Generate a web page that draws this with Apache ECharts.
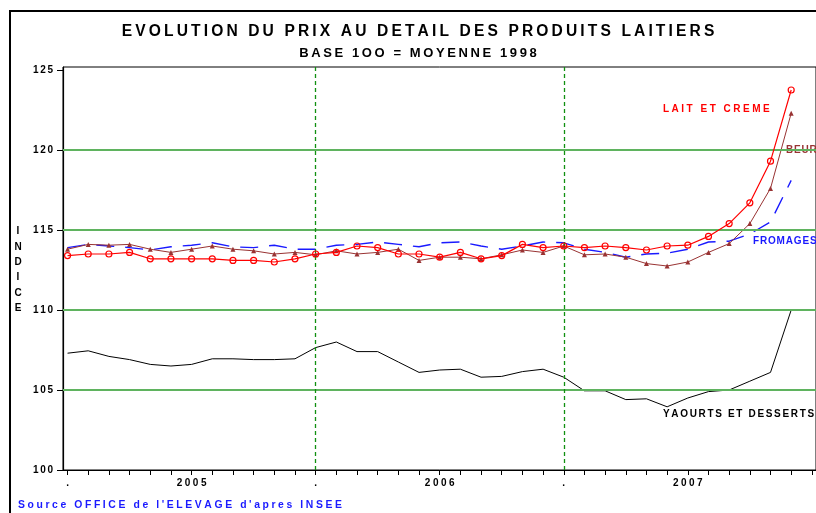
<!DOCTYPE html>
<html>
<head>
<meta charset="utf-8">
<script src="https://cdn.jsdelivr.net/npm/echarts@6/dist/echarts.min.js"></script>
<style>
html, body { margin: 0; background: #fff; }
#chart { width: 816px; height: 513px; }
</style>
</head>
<body>
<div id="chart"></div>
<script>
const months = [
  '2005-01', '2005-02', '2005-03', '2005-04', '2005-05', '2005-06',
  '2005-07', '2005-08', '2005-09', '2005-10', '2005-11', '2005-12',
  '2006-01', '2006-02', '2006-03', '2006-04', '2006-05', '2006-06',
  '2006-07', '2006-08', '2006-09', '2006-10', '2006-11', '2006-12',
  '2007-01', '2007-02', '2007-03', '2007-04', '2007-05', '2007-06',
  '2007-07', '2007-08', '2007-09', '2007-10', '2007-11', '2007-12'
];
const yearLabels = ['2005', '2006', '2007'];

const laitCreme = [
  113.4, 113.5, 113.5, 113.6, 113.2, 113.2, 113.2, 113.2, 113.1, 113.1, 113.0, 113.2,
  113.5, 113.6, 114.0, 113.9, 113.5, 113.5, 113.3, 113.6, 113.2, 113.4, 114.1, 113.9,
  114.0, 113.9, 114.0, 113.9, 113.75, 114.0, 114.05, 114.6, 115.4, 116.7, 119.3, 123.75
];
const beurre = [
  113.8, 114.1, 114.05, 114.1, 113.8, 113.6, 113.8, 114.0, 113.8, 113.7, 113.5, 113.6,
  113.45, 113.7, 113.5, 113.6, 113.8, 113.1, 113.3, 113.3, 113.2, 113.45, 113.75, 113.6,
  114.0, 113.45, 113.5, 113.3, 112.9, 112.75, 113.0, 113.6, 114.15, 115.4, 117.6, 122.3
];
const fromages = [
  113.9, 114.1, 114.0, 113.9, 113.75, 113.95, 114.05, 114.2, 113.95, 113.9, 114.05, 113.8,
  113.8, 114.05, 114.1, 114.25, 114.1, 113.95, 114.2, 114.25, 114.0, 113.8, 114.0, 114.25,
  114.2, 113.8, 113.6, 113.3, 113.5, 113.55, 113.8, 114.25, 114.3, 114.75, 115.5, 118.1
];
const yaourts = [
  107.3, 107.45, 107.1, 106.9, 106.6, 106.5, 106.6, 106.95, 106.95, 106.9, 106.9, 106.95,
  107.65, 108.0, 107.4, 107.4, 106.75, 106.1, 106.25, 106.3, 105.8, 105.85, 106.15, 106.3,
  105.8, 104.95, 104.95, 104.4, 104.45, 103.95, 104.5, 104.9, 105.0, 105.55, 106.1, 110.0
];

const yTicks = [100, 105, 110, 115, 120, 125];
const greenLines = [105, 110, 115, 120];
const yearStarts = [12, 24]; // janvier 2006 et janvier 2007
const xLabelPos = [0, 6, 12, 18, 24, 30];

const FONT = '"Liberation Sans", Arial, sans-serif';
const spaced = (s, gap) => Array.from(s).join(gap);
const toPairs = values => months.map((m, i) => [i, values[i]]);

const myChart = echarts.init(document.querySelector('#chart'));

const option = {
  animation: false,
  backgroundColor: '#fff',
  grid: {
    left: 63,
    top: 67,
    width: 759,
    height: 403,
    show: true,
    borderColor: '#000',
    borderWidth: 1
  },
  xAxis: {
    type: 'value',
    min: -0.22,
    max: 36.2,
    splitLine: { show: false },
    axisLine: { onZero: false, lineStyle: { color: '#000', width: 1.2 } },
    axisTick: {
      length: 5,
      lineStyle: { color: '#000' },
      customValues: months.map((m, i) => i).concat([36])
    },
    axisLabel: {
      customValues: xLabelPos,
      margin: 8,
      color: '#000',
      fontFamily: FONT,
      fontWeight: 'bold',
      fontSize: 10,
      formatter(value) {
        return value % 12 === 0 ? '.' : spaced(yearLabels[(value - 6) / 12], '\u2005');
      }
    }
  },
  yAxis: {
    type: 'value',
    min: 100,
    max: 125.1875,
    splitLine: { show: false },
    axisLine: { show: true, onZero: false, lineStyle: { color: '#000', width: 1.2 } },
    axisTick: {
      show: true,
      length: 6,
      lineStyle: { color: '#000' },
      customValues: yTicks
    },
    axisLabel: {
      customValues: yTicks,
      margin: 10,
      color: '#000',
      fontFamily: FONT,
      fontWeight: 'bold',
      fontSize: 10,
      formatter(value) {
        return spaced(String(value), '\u2006');
      }
    }
  },
  series: [
    {
      name: 'repères',
      type: 'line',
      data: [],
      z: 1,
      markLine: {
        silent: true,
        symbol: 'none',
        label: { show: false },
        data: greenLines
          .map(v => ({ yAxis: v, lineStyle: { color: '#5fb35f', width: 2, type: 'solid' } }))
          .concat(yearStarts.map(v => ({ xAxis: v, lineStyle: { color: '#109010', width: 1.3, type: [4, 3] } })))
      }
    },
    {
      name: 'YAOURTS ET DESSERTS',
      type: 'line',
      data: toPairs(yaourts),
      showSymbol: false,
      lineStyle: { color: '#000', width: 1 },
      z: 3
    },
    {
      name: 'FROMAGES',
      type: 'line',
      data: toPairs(fromages),
      showSymbol: false,
      lineStyle: { color: '#1a1aff', width: 1.4, type: [18, 11] },
      z: 3
    },
    {
      name: 'BEURRE',
      type: 'line',
      data: toPairs(beurre),
      symbol: 'triangle',
      symbolSize: 5,
      showAllSymbol: true,
      itemStyle: { color: '#993333' },
      lineStyle: { color: '#993333', width: 1 },
      z: 4
    },
    {
      name: 'LAIT ET CREME',
      type: 'line',
      data: toPairs(laitCreme),
      symbol: 'circle',
      symbolSize: 6,
      showAllSymbol: true,
      itemStyle: { color: 'rgba(0,0,0,0)', borderColor: '#ff0000', borderWidth: 1.2 },
      lineStyle: { color: '#ff0000', width: 1.2 },
      z: 5
    }
  ],
  graphic: [
    {
      type: 'rect',
      shape: { x: 10, y: 11, width: 900, height: 600 },
      style: { fill: 'none', stroke: '#000', lineWidth: 2 }
    },
    {
      type: 'text',
      x: 418,
      y: 32,
      style: {
        text: spaced('EVOLUTION DU PRIX AU DETAIL DES PRODUITS LAITIERS', '\u2009'),
        font: 'bold 15.6px ' + FONT,
        fill: '#000',
        textAlign: 'center',
        textVerticalAlign: 'middle'
      }
    },
    {
      type: 'text',
      x: 418,
      y: 53,
      style: {
        text: spaced('BASE 1OO = MOYENNE 1998', '\u2009'),
        font: 'bold 13px ' + FONT,
        fill: '#000',
        textAlign: 'center',
        textVerticalAlign: 'middle'
      }
    },
    {
      type: 'text',
      x: 18,
      y: 270,
      style: {
        text: Array.from('INDICE').join('\n'),
        font: 'bold 10px ' + FONT,
        lineHeight: 15.4,
        fill: '#000',
        textAlign: 'center',
        textVerticalAlign: 'middle'
      }
    },
    {
      type: 'text',
      x: 663,
      y: 109,
      style: {
        text: spaced('LAIT ET CREME', '\u2005'),
        font: 'bold 10px ' + FONT,
        fill: '#ff0000',
        textVerticalAlign: 'middle'
      }
    },
    {
      type: 'text',
      x: 786,
      y: 150,
      style: {
        text: spaced('BEURRE', '\u200A'),
        font: 'bold 10px ' + FONT,
        fill: '#993333',
        textVerticalAlign: 'middle'
      }
    },
    {
      type: 'text',
      x: 753,
      y: 241,
      style: {
        text: spaced('FROMAGES', '\u200A'),
        font: 'bold 10px ' + FONT,
        fill: '#1a1aff',
        textVerticalAlign: 'middle'
      }
    },
    {
      type: 'text',
      x: 663,
      y: 414,
      style: {
        text: spaced('YAOURTS ET DESSERTS', '\u2006'),
        font: 'bold 10px ' + FONT,
        fill: '#000',
        textVerticalAlign: 'middle'
      }
    },
    {
      type: 'text',
      x: 18,
      y: 505,
      style: {
        text: spaced("Source OFFICE de l'ELEVAGE d'apres INSEE", '\u2005'),
        font: 'bold 10.4px ' + FONT,
        fill: '#1a1aff',
        textVerticalAlign: 'middle'
      }
    }
  ]
};

myChart.setOption(option);
</script>
</body>
</html>
